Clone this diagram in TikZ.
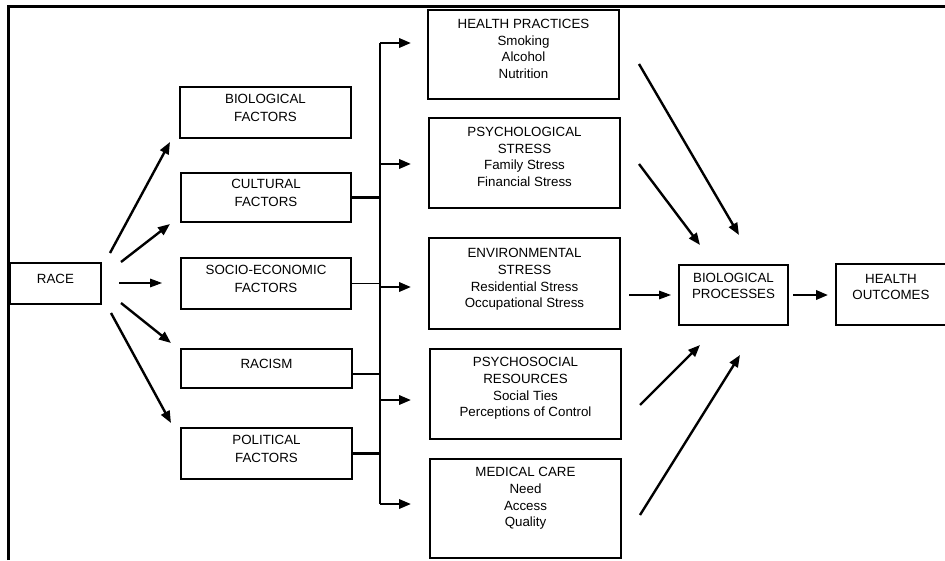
\documentclass[tikz,border=0pt]{standalone}
\usepackage{fontspec}
\setmainfont{Liberation Sans}
\usetikzlibrary{arrows.meta,fit,calc}
\begin{document}
\begin{tikzpicture}[x=0.75pt,y=-0.75pt,
  box/.style={draw,line width=1.6pt,inner sep=0pt,align=center,font=\fontsize{10}{13}\selectfont},
  mtxt/.style={inner sep=0pt,align=center,anchor=north,font=\fontsize{10}{12.5}\selectfont},
  arr/.style={-{Triangle[length=9pt,width=7pt]},line width=1.8pt},
  thinarr/.style={-{Triangle[length=9pt,width=6.5pt]},line width=0.8pt},
  conn/.style={line width=1.8pt},
  thinconn/.style={line width=0.8pt}]
\useasboundingbox (0,0) rectangle (945,560);
% frame
\draw[line width=2pt] (8.5,560) -- (8.5,6.5) -- (945,6.5);

% left column
\node[box,fit={(10,263)(101,304)}] (race) {RACE};
\node[box,fit={(180,87)(351,138)}] (bio) {BIOLOGICAL\\FACTORS};
\node[box,fit={(181,173)(351,222)}] (cult) {CULTURAL\\FACTORS};
\node[box,fit={(181,258)(351,309)}] (socio) {SOCIO-ECONOMIC\\FACTORS};
\node[box,fit={(181,349)(352,388)}] (rac) {RACISM};
\node[box,fit={(181,428)(352,479)}] (pol) {POLITICAL\\FACTORS};

% middle column
\node[box,fit={(428,10)(619,99)}] (hp) {};
\node[mtxt] (hpT) at ([yshift=-7.5pt]hp.north) {HEALTH PRACTICES\\Smoking\\Alcohol\\Nutrition};
\node[box,fit={(429,118)(620,208)}] (ps) {};
\node[mtxt] (psT) at ([yshift=-7.5pt]ps.north) {PSYCHOLOGICAL\\STRESS\\Family Stress\\Financial Stress};
\node[box,fit={(429,238)(620,329)}] (es) {};
\node[mtxt] (esT) at ([yshift=-8.5pt]es.north) {ENVIRONMENTAL\\STRESS\\Residential Stress\\Occupational Stress};
\node[box,fit={(430,349)(621,439)}] (pr) {};
\node[mtxt] (prT) at ([yshift=-7pt]pr.north) {PSYCHOSOCIAL\\RESOURCES\\Social Ties\\Perceptions of Control};
\node[box,fit={(430,459)(621,558)}] (mc) {};
\node[mtxt] (mcT) at ([yshift=-7pt]mc.north) {MEDICAL CARE\\Need\\Access\\Quality};

% right column
\node[box,fit={(679,265)(788,325)}] (bp) {};
\node[mtxt] (bpT) at ([yshift=-6.5pt]bp.north) {BIOLOGICAL\\PROCESSES};
\node[box,fit={(836,264)(946,325)}] (ho) {};
\node[mtxt] (hoT) at ([yshift=-8pt]ho.north) {HEALTH\\OUTCOMES};

% race arrows
\coordinate (r1s) at (110,253); \coordinate (r1e) at (170,142);
\coordinate (r2s) at (121,262); \coordinate (r2e) at (170,224);
\coordinate (r3s) at (119,283); \coordinate (r3e) at (162,283);
\coordinate (r4s) at (121,303); \coordinate (r4e) at (171,343);
\coordinate (r5s) at (111,313); \coordinate (r5e) at (171,423);
\draw[arr] (r1s) -- (r1e);
\draw[arr] (r2s) -- (r2e);
\draw[thinarr] (r3s) -- (r3e);
\draw[arr] (r4s) -- (r4e);
\draw[arr] (r5s) -- (r5e);

% bus
\coordinate (busT) at (380,43);
\coordinate (busB) at (380,504);
\draw[conn] (busT) -- (busB);
\draw[conn] (cult.east) -- (cult.east -| busT);
\draw[thinconn] (socio.east) -- (socio.east -| busT);
\draw[thinconn] ($(rac.east)+(0,5.5)$) coordinate (racC) -- (racC -| busT);
\draw[conn] (pol.east) -- (pol.east -| busT);

\coordinate (a1) at (411,43);
\coordinate (a2) at (411,164);
\coordinate (a3) at (411,287);
\coordinate (a4) at (411,400);
\coordinate (a5) at (411,504);
\foreach \a in {a1,a2,a3,a4,a5} \draw[arr] (\a -| busT) -- (\a);

% arrows to biological processes
\coordinate (h1s) at (639,64);  \coordinate (h1e) at (739,235);
\coordinate (h2s) at (639,164); \coordinate (h2e) at (700,245);
\coordinate (h3s) at (629,295); \coordinate (h3e) at (671,295);
\coordinate (h4s) at (640,405); \coordinate (h4e) at (700,345);
\coordinate (h5s) at (640,515); \coordinate (h5e) at (740,355);
\draw[arr] (h1s) -- (h1e);
\draw[arr] (h2s) -- (h2e);
\draw[thinarr] (h3s) -- (h3e);
\draw[arr] (h4s) -- (h4e);
\draw[arr] (h5s) -- (h5e);

% to outcomes
\coordinate (o1s) at (793,295); \coordinate (o1e) at (828,295);
\draw[arr] (o1s) -- (o1e);
\end{tikzpicture}
\end{document}
